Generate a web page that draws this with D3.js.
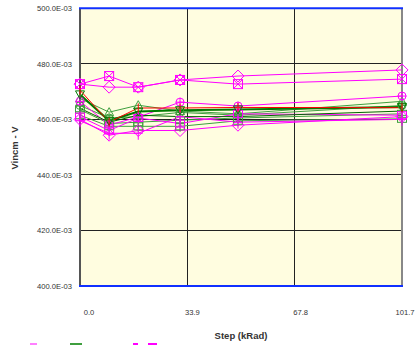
<!DOCTYPE html>
<html>
<head>
<meta charset="utf-8">
<script src="https://cdn.jsdelivr.net/npm/d3@7"></script>
<style>
  html, body { margin: 0; padding: 0; background: #ffffff; }
  svg { display: block; }
  text { font-family: Arial, "Liberation Sans", sans-serif; }
</style>
</head>
<body>
<svg id="chart" width="416" height="345"></svg>
<script>
// Dose steps (kRad)
const steps = [0, 9.2, 18.4, 31.6, 49.9, 101.7];

// Axis ticks
const yTicks = [0.400, 0.420, 0.440, 0.460, 0.480, 0.500];
const yTickLabels = ["400.0E-03", "420.0E-03", "440.0E-03", "460.0E-03", "480.0E-03", "500.0E-03"];
const xTicks = [0, 33.9, 67.8, 101.7];
const xTickLabels = ["0.0", "33.9", "67.8", "101.7"];

// Vincm per device (V), one entry per step
const unitA = [0.4727, 0.4756, 0.4716, 0.4742, 0.4727, 0.4745];
const unitB = [0.4727, 0.4716, 0.4716, 0.4742, 0.4756, 0.4778];
const unitC = [0.4705, 0.4590, 0.4641, 0.4641, 0.4643, 0.4642];
const unitD = [0.4690, 0.4595, 0.4628, 0.4633, 0.4636, 0.4645];
const unitE = [0.4675, 0.4626, 0.4651, 0.4630, 0.4620, 0.4665];
const unitF = [0.4635, 0.4585, 0.4590, 0.4597, 0.4605, 0.4620];
const unitG = [0.4615, 0.4575, 0.4575, 0.4575, 0.4595, 0.4602];
const unitH = [0.4650, 0.4605, 0.4610, 0.4625, 0.4615, 0.4650];
const unitI = [0.4665, 0.4580, 0.4608, 0.4662, 0.4648, 0.4684];
const unitJ = [0.4600, 0.4543, 0.4560, 0.4560, 0.4579, 0.4610];
const unitK = [0.4610, 0.4560, 0.4605, 0.4585, 0.4620, 0.4615];
const unitL = [0.4595, 0.4550, 0.4550, 0.4610, 0.4590, 0.4600];
const unitM = [0.4640, 0.4590, 0.4615, 0.4610, 0.4610, 0.4630];

const series = [
  { values: unitA, color: "#ff00ff", width: 1, marker: "boxX" },
  { values: unitB, color: "#ff00ff", width: 1, marker: "diamond" },
  { values: unitF, color: "#3f9f3f", width: 1, marker: "box" },
  { values: unitG, color: "#3f9f3f", width: 1, marker: "box" },
  { values: unitH, color: "#3f9f3f", width: 1, marker: "circle" },
  { values: unitE, color: "#3f9f3f", width: 1, marker: "triUp" },
  { values: unitJ, color: "#ff00ff", width: 1, marker: "diamond" },
  { values: unitK, color: "#ff00ff", width: 1, marker: "box" },
  { values: unitL, color: "#ff00ff", width: 1, marker: "cross" },
  { values: unitI, color: "#ff00ff", width: 1, marker: "circle" },
  { values: unitM, color: "#006400", width: 1, marker: "none" },
  { values: unitD, color: "#007a00", width: 2, marker: "triDown" },
  { values: unitC, color: "#ff0000", width: 1, marker: "tick" }
];

const svg = d3.select("#chart");
const x = d3.scaleLinear().domain([0, 101.7]).range([80, 402]);
const y = d3.scaleLinear().domain([0.4, 0.5]).range([286, 8.3]);

// Plot background
svg.append("rect")
  .attr("x", x(0)).attr("y", y(0.5))
  .attr("width", x(101.7) - x(0)).attr("height", y(0.4) - y(0.5))
  .attr("fill", "#fffde0");

// Grid lines
svg.append("g").selectAll("line").data(yTicks.slice(1, -1)).join("line")
  .attr("x1", x(0)).attr("x2", x(101.7))
  .attr("y1", d => y(d)).attr("y2", d => y(d))
  .attr("stroke", "#222").attr("stroke-width", 1).attr("shape-rendering", "crispEdges");
svg.append("g").selectAll("line").data(xTicks.slice(1, -1)).join("line")
  .attr("x1", d => x(d)).attr("x2", d => x(d))
  .attr("y1", y(0.5)).attr("y2", y(0.4))
  .attr("stroke", "#222").attr("stroke-width", 1).attr("shape-rendering", "crispEdges");

// Frame
svg.append("line").attr("x1", x(0)).attr("x2", x(0)).attr("y1", y(0.5)).attr("y2", y(0.4))
  .attr("stroke", "#555").attr("stroke-width", 2);
svg.append("line").attr("x1", x(101.7)).attr("x2", x(101.7)).attr("y1", y(0.5)).attr("y2", y(0.4))
  .attr("stroke", "#888").attr("stroke-width", 2);
svg.append("line").attr("x1", x(0) - 1).attr("x2", x(101.7) + 1).attr("y1", y(0.5)).attr("y2", y(0.5))
  .attr("stroke", "#1030ff").attr("stroke-width", 2);
svg.append("line").attr("x1", x(0) - 1).attr("x2", x(101.7) + 1).attr("y1", y(0.4)).attr("y2", y(0.4))
  .attr("stroke", "#1030ff").attr("stroke-width", 2);

// Y tick labels
svg.append("g").selectAll("text").data(yTicks).join("text")
  .attr("x", 72).attr("y", d => y(d)).attr("dy", "0.35em")
  .attr("text-anchor", "end").attr("font-size", 7.6).attr("fill", "#333")
  .text((d, i) => yTickLabels[i]);

// X tick labels
svg.append("g").selectAll("text").data(xTicks).join("text")
  .attr("x", (d, i) => x(d) + [9, 5, 6, 3][i]).attr("y", 312).attr("dy", "0.35em")
  .attr("text-anchor", "middle").attr("font-size", 7.6).attr("fill", "#333")
  .text((d, i) => xTickLabels[i]);

// Axis titles
svg.append("text").attr("x", 241).attr("y", 336).attr("dy", "0.35em")
  .attr("text-anchor", "middle").attr("font-size", 9.5).attr("font-weight", "bold").attr("fill", "#333")
  .text("Step (kRad)");
svg.append("text").attr("transform", "translate(15,148) rotate(-90)").attr("dy", "0.35em")
  .attr("text-anchor", "middle").attr("font-size", 9.5).attr("font-weight", "bold").attr("fill", "#333")
  .text("Vincm - V");

// Series lines and markers
const line = d3.line().x((d, i) => x(steps[i])).y(d => y(d));
const gData = svg.append("g");

function drawMarker(g, type, cx, cy, color) {
  const s = 4.5;
  const m = g.append("g").attr("transform", `translate(${cx},${cy})`)
    .attr("fill", "none").attr("stroke", color).attr("stroke-width", 1);
  if (type === "boxX") {
    m.append("rect").attr("x", -s).attr("y", -s).attr("width", 2 * s).attr("height", 2 * s);
    m.append("path").attr("d", `M${-s},${-s}L${s},${s}M${s},${-s}L${-s},${s}`);
  } else if (type === "box") {
    m.append("rect").attr("x", -s).attr("y", -s + 1).attr("width", 2 * s).attr("height", 2 * s - 2);
    m.append("path").attr("d", `M0,${-s - 1}V${s + 1}`);
  } else if (type === "diamond") {
    m.append("path").attr("d", `M0,${-s - 1.5}L${s + 1.5},0L0,${s + 1.5}L${-s - 1.5},0Z`);
  } else if (type === "circle") {
    m.append("circle").attr("r", s - 0.5);
    m.append("path").attr("d", `M${-s},0H${s}M0,${-s}V${s}`);
  } else if (type === "triUp") {
    m.append("path").attr("d", `M0,${-s}L${s},${s - 1}L${-s},${s - 1}Z`);
  } else if (type === "triDown") {
    m.append("path").attr("d", `M${-s},${-s + 1}L${s},${-s + 1}L0,${s}Z`);
  } else if (type === "cross") {
    m.append("path").attr("d", `M${-s},0H${s}M0,${-s - 2}V${s + 2}`);
  } else if (type === "tick") {
    m.append("path").attr("d", `M0,${-s}V${s}`);
  }
}

series.forEach(sr => {
  gData.append("path").datum(sr.values)
    .attr("d", line).attr("fill", "none")
    .attr("stroke", sr.color).attr("stroke-width", sr.width);
});
series.forEach(sr => {
  if (sr.marker === "none") return;
  sr.values.forEach((v, i) => drawMarker(gData, sr.marker, x(steps[i]), y(v), sr.color));
});

// Legend row (continues below the visible area)
const legendItems = [
  { color: "#ff80ff", x: 30, w: 7 },
  { color: "#3f9f3f", x: 70, w: 12 },
  { color: "#ff00ff", x: 133, w: 5 },
  { color: "#ff00ff", x: 148, w: 9 }
];
svg.append("g").selectAll("rect").data(legendItems).join("rect")
  .attr("x", d => d.x).attr("y", 343).attr("width", d => d.w).attr("height", 4)
  .attr("fill", d => d.color);
</script>
</body>
</html>
